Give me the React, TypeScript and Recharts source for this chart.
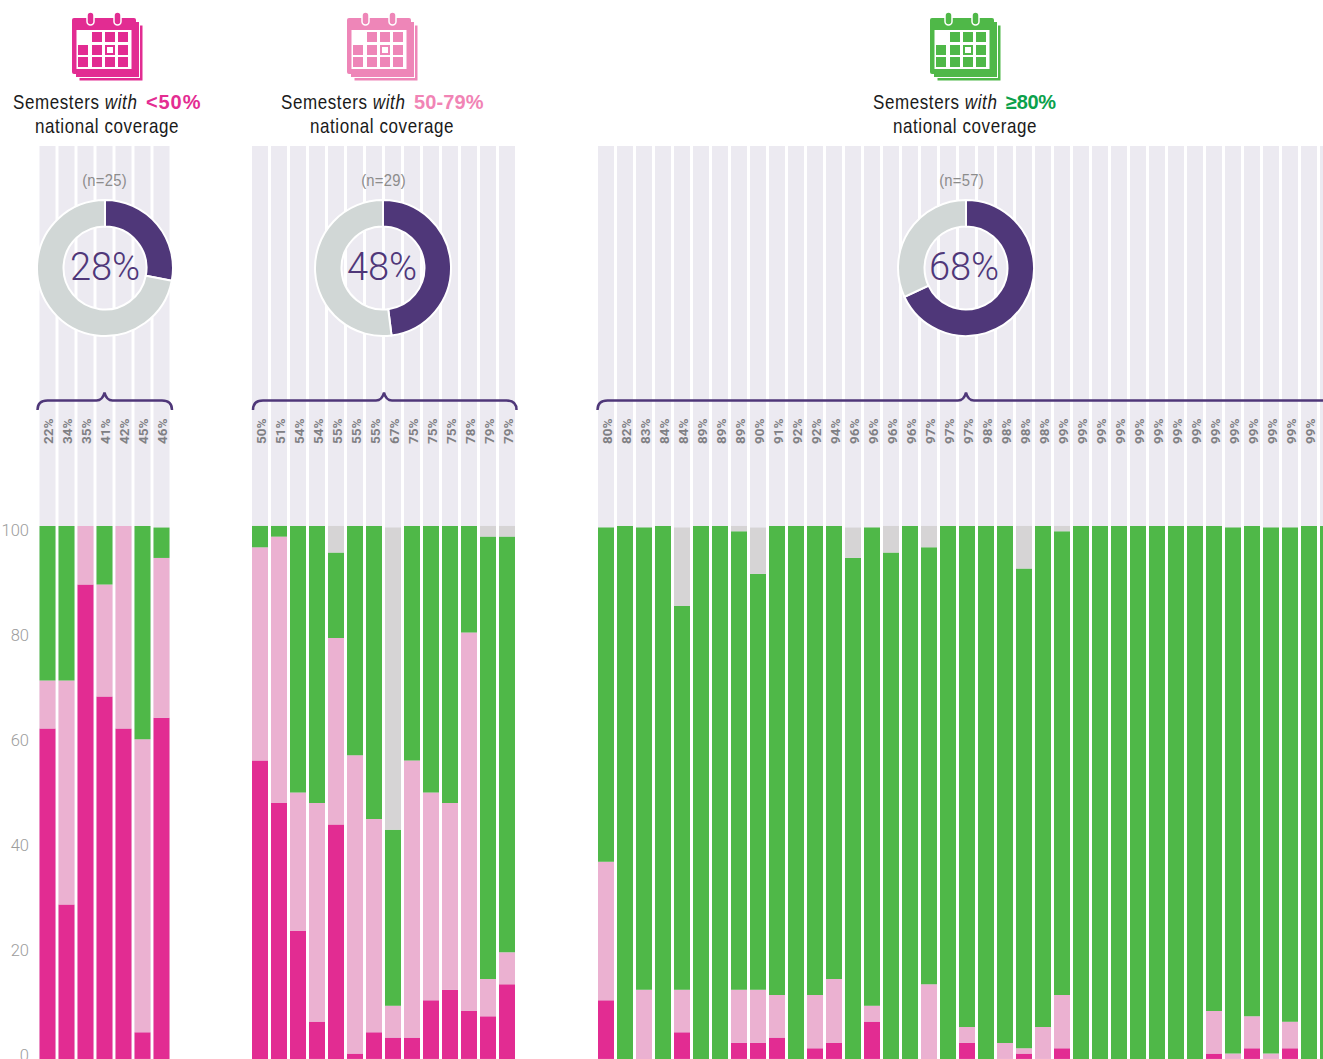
import React from 'react';
import { BarChart, Bar, XAxis, YAxis, PieChart, Pie, Cell } from 'recharts';

const labelsLow = ['22%','34%','35%','41%','42%','45%','46%'];
const pinkLow = [62,29,89,68,62,5,64];
const lightLow = [9,42,11,21,38,55,30];
const greenLow = [29,29,0,11,0,40,5.7];
const grayLow = [0,0,0,0,0,0,0];

const labelsMid = ['50%','51%','54%','54%','55%','55%','55%','67%','75%','75%','75%','78%','79%','79%'];
const pinkMid = [56,48,24,7,44,1,5,4,4,11,13,9,8,14];
const lightMid = [40,50,26,41,35,56,40,6,52,39,35,71,7,6];
const greenMid = [4,2,50,52,16,43,55,33,44,50,52,20,83,78];
const grayMid = [0,0,0,0,5,0,0,56.7,0,0,0,0,2,2];

const labelsHigh = ['80%','82%','83%','84%','84%','89%','89%','89%','90%','91%','92%','92%','94%','96%','96%','96%','96%','97%','97%','97%','98%','98%','98%','98%','99%','99%','99%','99%','99%','99%','99%','99%','99%','99%','99%','99%','99%','99%','99%'];
const pinkHigh = [11,0,0,0,5,0,0,3,3,4,0,2,3,0,7,0,0,0,0,3,0,0,1,0,2,0,0,0,0,0,0,0,1,0,2,0,2,0,0];
const lightHigh = [26,0,13,0,8,0,0,10,10,8,0,10,12,0,3,0,0,14,0,3,0,3,1,6,10,0,0,0,0,0,0,0,8,1,6,1,5,0,0];
const greenHigh = [62.7,100,86.7,100,72,100,100,86,78,88,100,88,85,94,89.7,95,100,82,100,94,100,97,90,94,87,100,100,100,100,100,100,100,91,98.7,92,98.7,92.7,100,100];
const grayHigh = [0,0,0,0,14.7,0,0,1,8.7,0,0,0,0,5.7,0,5,0,4,0,0,0,0,8,0,1,0,0,0,0,0,0,0,0,0,0,0,0,0,0];

const yTicks = [0,20,40,60,80,100];

const donutLow = [28,72];
const donutMid = [48,52];
const donutHigh = [68,32];

const PINK='#E22C92', LIGHT='#EBB1D1', GREEN='#4FB848', GRAY='#D6D4D5', TRACK='#ECEAF1', PURPLE='#4F3779', RING='#D1D7D6';
const NARROW = '"Liberation Sans",sans-serif';

const table = (labels:string[],pink:number[],light:number[],green:number[],gray:number[]) =>
  labels.map((label,i)=>({label,base:0.01,pink:pink[i],light:light[i],green:green[i],gray:gray[i]}));

const PctTick = (p:any) => (
  <text transform={`translate(${p.x+6},${299}) rotate(-90)`} fill="#808084" fontFamily="Roboto,sans-serif" fontWeight={700} fontSize={13.5}>{p.payload.value}</text>
);

function Stack({left,width,data,axis}:{left:number;width:number;data:any[];axis?:boolean}) {
  return (
    <div style={{position:'absolute',left,top:145}}>
      <BarChart width={width} height={914} data={data} margin={{top:0,right:0,bottom:0,left:0}} barSize={16} barCategoryGap={3}>
        <XAxis dataKey="label" orientation="top" height={1} interval={0} axisLine={false} tickLine={false} tickSize={0} tick={<PctTick/>} />
        <YAxis yAxisId={0} domain={[0,171.3]} hide width={0} allowDataOverflow type="number"/>
        {axis && <YAxis yAxisId="ticks" domain={[-0.762,173.14]} ticks={yTicks} allowDataOverflow type="number" width={37.5} axisLine={false} tickLine={false} tickSize={0} tickMargin={8.5} interval={0} tick={{fill:'#9c9c9c',fontSize:16.5,fontFamily:'Roboto,sans-serif',fontWeight:300}}/>}
        <Bar dataKey="base" stackId="s" fill={TRACK} background={{fill:TRACK}} isAnimationActive={false}/>
        <Bar dataKey="pink" stackId="s" fill={PINK} isAnimationActive={false}/>
        <Bar dataKey="light" stackId="s" fill={LIGHT} isAnimationActive={false}/>
        <Bar dataKey="green" stackId="s" fill={GREEN} isAnimationActive={false}/>
        <Bar dataKey="gray" stackId="s" fill={GRAY} isAnimationActive={false}/>
      </BarChart>
    </div>
  );
}

function Donut({cx,values}:{cx:number;values:number[]}) {
  return (
    <div style={{position:'absolute',left:cx-72,top:196}}>
      <PieChart width={144} height={144} margin={{top:0,right:0,bottom:0,left:0}}>
        <Pie data={values.map(v=>({v}))} dataKey="v" cx={72} cy={72} innerRadius={41.5} outerRadius={68} startAngle={90} endAngle={-270} stroke="#fff" strokeWidth={2} isAnimationActive={false}>
          <Cell fill={PURPLE}/>
          <Cell fill={RING}/>
        </Pie>
      </PieChart>
    </div>
  );
}

function Calendar({x,color}:{x:number;color:string}) {
  const cols=[6,20,33,46], rows=[20,33,45];
  return (
    <g transform={`translate(${x},12)`}>
      <rect x={7} y={13} width={64} height={56} fill={color} stroke="#fff" strokeWidth={1}/>
      <rect x={3.5} y={9.5} width={64} height={56} fill={color} stroke="#fff" strokeWidth={1}/>
      <rect x={0} y={6} width={64} height={56} rx={2} fill={color}/>
      <rect x={4.5} y={18} width={55} height={39} fill="#fff"/>
      {rows.map((r,ri)=>cols.map((c,ci)=> (ri===0&&ci===0)?null:(
        <g key={`${ri}-${ci}`}>
          <rect x={c} y={r} width={10} height={10} fill={color}/>
          {ri===1&&ci===2 && <rect x={c+2} y={r+2} width={6} height={6} fill="#fff"/>}
        </g>
      )))}
      {[15,42].map(c=>(<rect key={c} x={c} y={0} width={7} height={13} rx={3.5} fill={color} stroke="#fff" strokeWidth={1.5}/>))}
    </g>
  );
}

function Head({cx,x0,pctX,pct,color,ls}:{cx:number;x0:number;pctX:number;pct:string;color:string;ls:number}) {
  const sx=0.85;
  return (
    <g fontFamily={NARROW} fontSize={20} fill="#1a1a1a" letterSpacing={0.7}>
      <text transform={`translate(${x0},109) scale(${sx},1)`}>Semesters <tspan fontStyle="italic">with</tspan></text>
      <text x={pctX} y={109} fill={color} fontWeight={700} letterSpacing={ls}>{pct}</text>
      <text transform={`translate(${cx},133) scale(${sx},1)`} textAnchor="middle">national coverage</text>
    </g>
  );
}

function Brace({x0,cx,x1}:{x0:number;cx:number;x1:number}) {
  return <path d={`M${x0} 410 Q${x0} 400.5 ${x0+10} 400.5 L${cx-8} 400.5 Q${cx-2} 400.5 ${cx} 392.5 Q${cx+2} 400.5 ${cx+8} 400.5 L${x1-10} 400.5 Q${x1} 400.5 ${x1} 410`} fill="none" stroke={PURPLE} strokeWidth={2.5}/>;
}

function Center({cx,nx,n,pct}:{cx:number;nx:number;n:string;pct:string}) {
  return (
    <g textAnchor="middle">
      <text transform={`translate(${nx},186) scale(0.87,1)`} fontFamily={NARROW} fontSize={17} fill="#8c8c8c" letterSpacing={0.3}>{n}</text>
      <text x={cx} y={280} fontFamily="Roboto,sans-serif" fontWeight={300} fontSize={38} fill={PURPLE}>{pct}</text>
    </g>
  );
}

export default function App() {
  return (
    <div style={{position:'absolute',left:0,top:0,width:1323,height:1059,overflow:'hidden',background:'#fff'}}>
      <Stack left={0} width={170.5} axis data={table(labelsLow,pinkLow,lightLow,greenLow,grayLow)}/>
      <Stack left={249.5} width={266} data={table(labelsMid,pinkMid,lightMid,greenMid,grayMid)}/>
      <Stack left={595.5} width={741} data={table(labelsHigh,pinkHigh,lightHigh,greenHigh,grayHigh)}/>
      <Donut cx={104.5} values={donutLow}/>
      <Donut cx={382.5} values={donutMid}/>
      <Donut cx={966} values={donutHigh}/>
      <svg width={1323} height={1059} style={{position:'absolute',left:0,top:0,pointerEvents:'none'}}>
        <Calendar x={72} color={PINK}/>
        <Calendar x={347} color="#EE86B8"/>
        <Calendar x={930} color={GREEN}/>
        <Head cx={107} x0={13} pctX={146} pct="<50%" color="#E42D92" ls={0.9}/>
        <Head cx={382} x0={281} pctX={414} pct="50-79%" color="#F184B5" ls={0.1}/>
        <Head cx={965} x0={873} pctX={1006} pct="≥80%" color="#0BA14B" ls={-0.3}/>
        <Center cx={105} nx={104.5} n="(n=25)" pct="28%"/>
        <Center cx={382} nx={383.5} n="(n=29)" pct="48%"/>
        <Center cx={964} nx={961.5} n="(n=57)" pct="68%"/>
        <Brace x0={37.5} cx={104.5} x1={172}/>
        <Brace x0={253} cx={384} x1={516.5}/>
        <Brace x0={597.5} cx={966} x1={1345}/>
      </svg>
    </div>
  );
}
